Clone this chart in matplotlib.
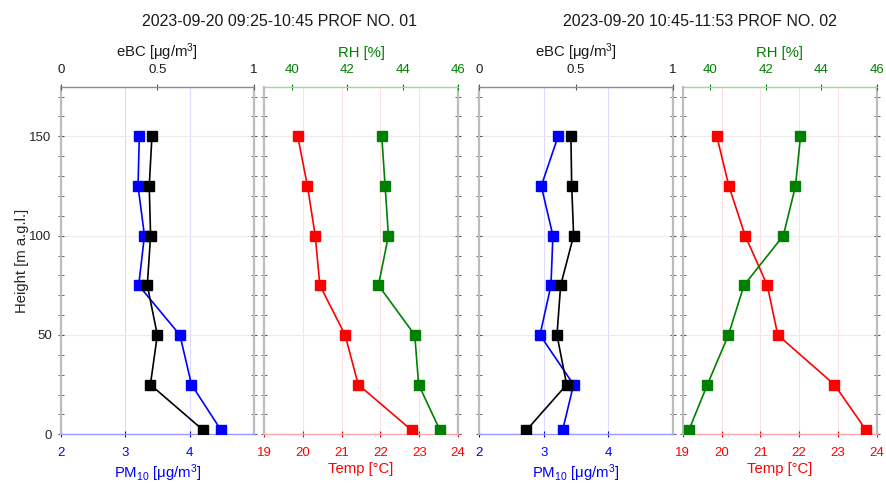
import matplotlib
matplotlib.use('Agg')
import matplotlib.pyplot as plt
from matplotlib.ticker import MultipleLocator, FixedLocator

plt.rcParams['font.family'] = ['Liberation Sans', 'DejaVu Sans']
plt.rcParams['mathtext.fontset'] = 'custom'
plt.rcParams['mathtext.rm'] = 'Liberation Sans'
plt.rcParams['mathtext.it'] = 'Liberation Sans:italic'
plt.rcParams['mathtext.bf'] = 'Liberation Sans:bold'

# ---------------- data ----------------
height = [2, 25, 50, 75, 100, 125, 150]

pm10_1 = [4.49, 4.03, 3.85, 3.21, 3.30, 3.20, 3.22]
ebc_1 = [0.738, 0.464, 0.500, 0.448, 0.465, 0.458, 0.472]
temp_1 = [22.81, 21.43, 21.09, 20.44, 20.32, 20.12, 19.87]
rh_1 = [45.35, 44.58, 44.44, 43.13, 43.49, 43.37, 43.25]

pm10_2 = [3.29, 3.46, 2.94, 3.11, 3.14, 2.96, 3.22]
ebc_2 = [0.243, 0.451, 0.401, 0.420, 0.487, 0.477, 0.473]
temp_2 = [23.73, 22.91, 21.45, 21.18, 20.61, 20.19, 19.88]
rh_2 = [39.22, 39.89, 40.65, 41.21, 42.63, 43.07, 43.25]

titles = ["2023-09-20 09:25-10:45 PROF NO. 01",
          "2023-09-20 10:45-11:53 PROF NO. 02"]

pm_ticks = [2, 3, 4]
ebc_ticks = [0, 0.5, 1]
ebc_ticklabels = ['0', '0.5', '1']
temp_ticks = [19, 20, 21, 22, 23, 24]
rh_ticks = [40, 42, 44, 46]
h_ticks = [0, 50, 100, 150]

GREEN = '#008000'
FS_TICK = 9.5
FS_LAB = 10.7

fig = plt.figure(figsize=(8.86, 4.83), dpi=100)

W, H = 886.0, 483.0
y0 = 1 - 434.3 / H
hh = (434.3 - 86.7) / H


def style_y(ax, show_labels):
    ax.set_ylim(0, 175)
    ax.yaxis.set_major_locator(FixedLocator(h_ticks))
    ax.yaxis.set_minor_locator(MultipleLocator(10))
    ax.tick_params(axis='y', which='both', left=True, right=True,
                   direction='inout', colors='#555555',
                   labelcolor='#262626', labelsize=FS_TICK, pad=4)
    ax.tick_params(axis='y', which='major', length=5, width=0.8)
    ax.tick_params(axis='y', which='minor', length=4, width=0.6)
    if not show_labels:
        ax.tick_params(axis='y', labelleft=False)
    ax.yaxis.grid(True, which='major', color='#ececec', lw=0.8)
    for s in ('left', 'right'):
        ax.spines[s].set_color('#bdbdbd')
        ax.spines[s].set_linewidth(1.6)


def aerosol_panel(left_px, right_px, pm, ebc, show_y):
    ax = fig.add_axes([left_px / W, y0, (right_px - left_px) / W, hh])
    ax.set_axisbelow(True)
    ax.set_xlim(2, 5)
    ax.set_xticks(pm_ticks)
    style_y(ax, show_y)
    ax.xaxis.grid(True, color='#dcdcff', lw=0.8)
    ax.tick_params(axis='x', top=True, bottom=True, direction='inout',
                   colors='blue', labelsize=FS_TICK, length=5, width=0.8,
                   pad=7)
    ax.spines['bottom'].set_color('#9a9aff')
    ax.spines['bottom'].set_linewidth(1.0)
    ax.spines['top'].set_visible(False)
    ax.set_xlabel('PM$_{10}$ [μg/m$^3$]', color='blue', fontsize=FS_LAB,
                  labelpad=2)
    ax.plot(pm, height, color='blue', marker='s', ms=6.5, lw=1.2, zorder=3)

    ax2 = ax.twiny()
    ax2.set_xlim(0, 1)
    ax2.set_xticks(ebc_ticks)
    ax2.set_xticklabels(ebc_ticklabels)
    ax2.tick_params(axis='x', top=True, bottom=False, direction='inout',
                    colors='#555555', labelcolor='#1a1a1a',
                    labelsize=FS_TICK, length=5, width=0.8, pad=5)
    for s in ('left', 'right', 'bottom'):
        ax2.spines[s].set_visible(False)
    ax2.spines['top'].set_color('#8c8c8c')
    ax2.spines['top'].set_linewidth(1.0)
    ax2.set_xlabel('eBC [μg/m$^3$]', color='#1a1a1a', fontsize=FS_LAB,
                   labelpad=5)
    ax2.plot(ebc, height, color='black', marker='s', ms=6.5, lw=1.2,
             zorder=3)
    return ax


def met_panel(left_px, right_px, temp, rh):
    ax = fig.add_axes([left_px / W, y0, (right_px - left_px) / W, hh])
    ax.set_axisbelow(True)
    ax.set_xlim(19, 24)
    ax.set_xticks(temp_ticks)
    style_y(ax, False)
    ax.xaxis.grid(True, color='#ffe0e0', lw=0.8)
    ax.tick_params(axis='x', top=True, bottom=True, direction='inout',
                   colors='red', labelsize=FS_TICK, length=5, width=0.8,
                   pad=7)
    ax.spines['bottom'].set_color('#ffa8a8')
    ax.spines['bottom'].set_linewidth(1.0)
    ax.spines['top'].set_visible(False)
    ax.set_xlabel('Temp [°C]', color='red', fontsize=FS_LAB, labelpad=2)
    ax.plot(temp, height, color='red', marker='s', ms=6.5, lw=1.2, zorder=3)

    ax2 = ax.twiny()
    ax2.set_xlim(39, 46)
    ax2.set_xticks(rh_ticks)
    ax2.tick_params(axis='x', top=True, bottom=False, direction='inout',
                    colors=GREEN, labelsize=FS_TICK, length=5, width=0.8,
                    pad=5)
    for s in ('left', 'right', 'bottom'):
        ax2.spines[s].set_visible(False)
    ax2.spines['top'].set_color('#9fd89f')
    ax2.spines['top'].set_linewidth(1.0)
    ax2.set_xlabel('RH [%]', color=GREEN, fontsize=FS_LAB, labelpad=5)
    ax2.plot(rh, height, color=GREEN, marker='s', ms=6.5, lw=1.2, zorder=3)
    return ax


a1 = aerosol_panel(60.7, 254.0, pm10_1, ebc_1, True)
a1.set_ylabel('Height [m a.g.l.]', fontsize=FS_LAB, color='#262626',
              labelpad=0)
met_panel(264.0, 458.0, temp_1, rh_1)
aerosol_panel(479.3, 673.0, pm10_2, ebc_2, False)
met_panel(682.7, 876.7, temp_2, rh_2)

fig.text(280 / W, 1 - 21 / H, titles[0], ha='center', va='center',
         fontsize=11.5, color='#1a1a1a')
fig.text(700 / W, 1 - 21 / H, titles[1], ha='center', va='center',
         fontsize=11.5, color='#1a1a1a')

fig.savefig('out.png', dpi=100)
